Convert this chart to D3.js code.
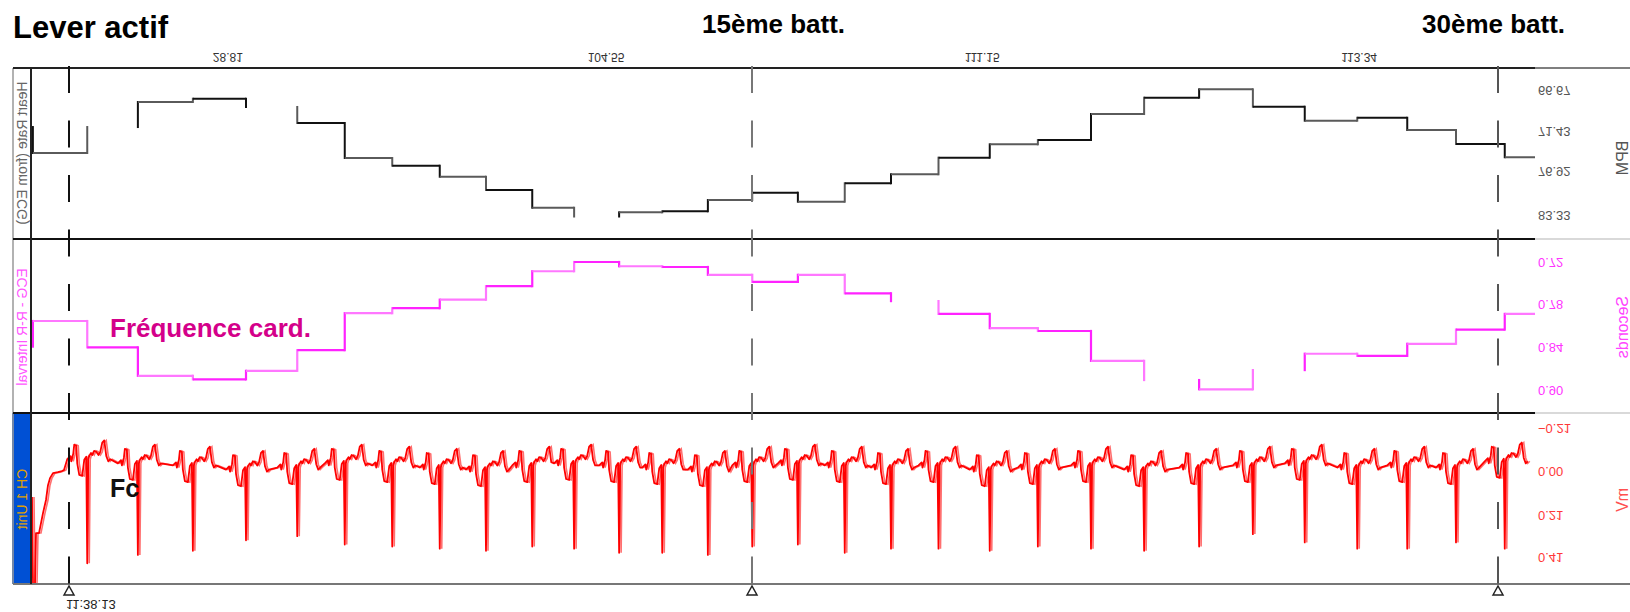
<!DOCTYPE html>
<html>
<head>
<meta charset="utf-8">
<script src="https://cdn.jsdelivr.net/npm/d3@7"></script>
<style>
  body { margin: 0; background: #fff; }
  svg { display: block; font-family: "Liberation Sans", Arial, sans-serif; }
</style>
</head>
<body>
<svg id="chart" width="1630" height="612"></svg>
<script>
// R-wave times, seconds from the start of the window (beat 0 .. beat 30)
const beatTimes = [0.03, 0.90, 1.71, 2.59, 3.44, 4.26, 5.02, 5.78, 6.54, 7.28, 8.02,
  8.69, 9.41, 10.10, 10.83, 11.54, 12.27, 13.02, 13.76, 14.52, 15.34,
  16.11, 16.96, 17.81, 18.69, 19.55, 20.38, 21.22, 22.02, 22.80, 23.58];

// one value per interval: the one before beat 0, then after each beat
const hrBpm = [70.97, 74.45, 70.97, 68.06, 67.68, 68.64, 70.50, 75.14, 76.19, 77.75,
  79.69, 82.27, 83.55, 82.94, 82.79, 81.15, 80.08, 81.39, 78.71, 77.40,
  75.09, 73.26, 72.67, 69.46, 67.56, 66.59, 68.61, 70.23, 69.89, 71.31,
  73.22, 75.03];
const hrGaps = [0, 2, 5, 12];

const rrSec = [0.839, 0.803, 0.840, 0.880, 0.885, 0.873, 0.844, 0.792, 0.785, 0.773,
  0.754, 0.733, 0.720, 0.726, 0.727, 0.738, 0.748, 0.738, 0.764, 0.775,
  0.793, 0.813, 0.817, 0.859, 0.886, 0.899, 0.872, 0.849, 0.852, 0.835,
  0.815, 0.793];
const rrGaps = [0, 19, 24, 26];

// depth of the R spike for beats 1..30 (mV, axis points down)
const spikeMv = [0.44, 0.40, 0.38, 0.33, 0.31, 0.35, 0.36, 0.37, 0.38, 0.36,
  0.37, 0.39, 0.39, 0.40, 0.36, 0.35, 0.39, 0.37, 0.37, 0.38,
  0.36, 0.37, 0.38, 0.36, 0.30, 0.34, 0.37, 0.37, 0.34, 0.37];

// baseline shift of each beat 1..30 (mV)
const baseMv = [-0.03, -0.01, 0.00, 0.02, 0.01, -0.01, 0.00, 0.01, 0.02, 0.00,
  -0.01, 0.00, 0.01, 0.02, 0.00, -0.01, 0.00, 0.01, 0.00, 0.02,
  0.01, 0.00, 0.02, 0.01, 0.00, -0.01, 0.01, 0.00, 0.01, -0.02];

// shape of one beat around its R spike [dt s, mV]; null = the spike itself
const ecgShape = [[-0.32, -0.03], [-0.27, -0.045], [-0.256, -0.02], [-0.224, -0.056],
  [-0.208, -0.10], [-0.176, -0.095], [-0.16, -0.01], [-0.128, 0.045], [-0.08, 0.05],
  [-0.048, -0.027], [-0.016, -0.042], [0, null], [0.016, -0.03], [0.032, -0.046],
  [0.06, -0.06], [0.08, -0.05], [0.11, -0.07], [0.144, -0.066], [0.18, -0.05],
  [0.208, -0.065], [0.24, -0.11], [0.272, -0.12], [0.304, -0.046], [0.336, -0.02],
  [0.368, -0.03]];

// recording start, before the first full beat
const ecgLeadIn = [[0.016, 0.122], [0.032, 0.54], [0.064, 0.54], [0.08, 0.295],
  [0.128, 0.295], [0.192, 0.199], [0.24, 0.136], [0.272, 0.065], [0.304, 0.031],
  [0.352, 0.007], [0.432, 0.002], [0.496, -0.003], [0.528, -0.008]];

const markerTimes = [0.608, 11.536, 23.472];
const topTickTimes = [3.15, 9.2, 15.22, 21.25];
const topTickLabels = ["28.81", "104.55", "111.15", "113.34"];
const hrTicks = [66.67, 71.43, 76.92, 83.33];
const rrTicks = [0.72, 0.78, 0.84, 0.90];
const ecgTicks = [-0.21, 0.00, 0.21, 0.41];

const svg = d3.select('#chart');
const plotL = 31, plotR = 1535, colL = 13, W = 1630;
const panels = [
  {id: 'hr', top: 68, bottom: 239},
  {id: 'rr', top: 239, bottom: 413},
  {id: 'ecg', top: 413, bottom: 584}
];

const x = d3.scaleLinear().domain([0, 24.064]).range([plotL, plotR]);
const hrY = d3.scaleLinear().domain(hrTicks).range([90, 131, 171, 215]);
const rrY = d3.scaleLinear().domain([rrTicks[0], rrTicks[3]]).range([262, 390]);
const ecgY = d3.scaleLinear().domain([ecgTicks[0], ecgTicks[3]]).range([428, 557]);

const defs = svg.append('defs');
panels.forEach(p => {
  defs.append('clipPath').attr('id', 'clip-' + p.id)
    .append('rect').attr('x', plotL).attr('y', p.top)
    .attr('width', plotR - plotL).attr('height', p.bottom - p.top);
});

// step trace: a flat piece per interval, verticals at the beats, gaps left open
function stepTrace() {
  let y, gaps = [], colors = ['#111', '#666'], width = 2;

  function my(selection) {
    selection.each(function(d) {
      const g = d3.select(this);
      const edges = [x.domain()[0] - 0.5].concat(d.times, [x.domain()[1] + 0.5]);
      d.values.forEach(function(v, j) {
        const c = colors[j % colors.length];
        if (gaps.indexOf(j) < 0) {
          g.append('line')
            .attr('x1', x(edges[j])).attr('x2', x(edges[j + 1]))
            .attr('y1', y(v)).attr('y2', y(v))
            .attr('stroke', c).attr('stroke-width', width);
        }
        if (j < d.values.length - 1) {
          g.append('line')
            .attr('x1', x(edges[j + 1])).attr('x2', x(edges[j + 1]))
            .attr('y1', y(v)).attr('y2', y(d.values[j + 1]))
            .attr('stroke', c).attr('stroke-width', width)
            .attr('stroke-linecap', 'square');
        }
      });
    });
  }

  my.y = function(value) { if (!arguments.length) return y; y = value; return my; };
  my.gaps = function(value) { if (!arguments.length) return gaps; gaps = value; return my; };
  my.colors = function(value) { if (!arguments.length) return colors; colors = value; return my; };
  my.width = function(value) { if (!arguments.length) return width; width = value; return my; };
  return my;
}

// flipped small text, as in the source print-out
function flipText(g, px, py, txt, opts) {
  const rot = opts.rotate ? ' rotate(90)' : '';
  return g.append('text')
    .attr('transform', `translate(${px},${py})${rot} scale(1,-1)`)
    .attr('text-anchor', opts.anchor || 'start')
    .attr('dominant-baseline', 'central')
    .attr('font-size', opts.size || 12)
    .attr('fill', opts.color || '#333')
    .text(txt);
}

// frame
svg.append('rect').attr('x', colL - 1).attr('y', 413).attr('width', plotL - colL + 1)
  .attr('height', 171).attr('fill', '#0050d4');
svg.append('line').attr('x1', colL).attr('x2', colL).attr('y1', 68).attr('y2', 584)
  .attr('stroke', '#999').attr('stroke-width', 1.5);

// traces
svg.append('g').attr('clip-path', 'url(#clip-hr)')
  .datum({times: beatTimes, values: hrBpm})
  .call(stepTrace().y(hrY).gaps(hrGaps).colors(['#111', '#5a5a5a']).width(2));

svg.append('g').attr('clip-path', 'url(#clip-rr)')
  .datum({times: beatTimes, values: rrSec})
  .call(stepTrace().y(rrY).gaps(rrGaps).colors(['#ff22ff', '#ff77ff']).width(2.2));

const ecgPoints = ecgLeadIn.slice();
beatTimes.slice(1).forEach(function(t, k) {
  const i = k + 1;
  const before = beatTimes[i] - beatTimes[i - 1];
  const after = i + 1 < beatTimes.length ? beatTimes[i + 1] - beatTimes[i] : 1;
  ecgShape.forEach(function(s) {
    if (s[0] < -before * 0.5 || s[0] > after * 0.5) return;
    ecgPoints.push([t + s[0], s[1] === null ? spikeMv[k] : s[1] + baseMv[k]]);
  });
});
const ecgLine = d3.line().x(d => x(d[0])).y(d => ecgY(d[1]));
const ecgG = svg.append('g').attr('clip-path', 'url(#clip-ecg)');
ecgG.append('path').datum(ecgPoints).attr('d', ecgLine)
  .attr('transform', 'translate(2,0)')
  .attr('fill', 'none').attr('stroke', '#ff7070').attr('stroke-width', 1.6);
ecgG.append('path').datum(ecgPoints).attr('d', ecgLine)
  .attr('fill', 'none').attr('stroke', '#ff0000').attr('stroke-width', 1.8)
  .attr('stroke-linejoin', 'round');

// panel borders
svg.append('line').attr('x1', colL).attr('x2', plotR).attr('y1', 68).attr('y2', 68)
  .attr('stroke', '#222').attr('stroke-width', 2);
svg.append('line').attr('x1', plotR).attr('x2', W).attr('y1', 68).attr('y2', 68)
  .attr('stroke', '#555').attr('stroke-width', 1.5);
[239, 413].forEach(function(yy) {
  svg.append('line').attr('x1', colL).attr('x2', plotR).attr('y1', yy).attr('y2', yy)
    .attr('stroke', '#111').attr('stroke-width', 2);
  svg.append('line').attr('x1', plotR).attr('x2', W).attr('y1', yy).attr('y2', yy)
    .attr('stroke', '#ccc').attr('stroke-width', 1.5);
});
svg.append('line').attr('x1', colL).attr('x2', W).attr('y1', 584).attr('y2', 584)
  .attr('stroke', '#777').attr('stroke-width', 2);
svg.append('line').attr('x1', plotL).attr('x2', plotL).attr('y1', 68).attr('y2', 584)
  .attr('stroke', '#222').attr('stroke-width', 2);

// beat markers
const markerColors = ['#111', '#777', '#555'];
markerTimes.forEach(function(t, i) {
  svg.append('line').attr('x1', x(t)).attr('x2', x(t)).attr('y1', 66).attr('y2', 590)
    .attr('stroke', markerColors[i]).attr('stroke-width', 2)
    .attr('stroke-dasharray', '27,27.5');
  svg.append('path')
    .attr('d', `M${x(t) - 5},595L${x(t)},586L${x(t) + 5},595Z`)
    .attr('fill', '#fff').attr('stroke', '#222').attr('stroke-width', 1.5);
});

// right-hand scales
hrTicks.forEach(v => flipText(svg, 1538, hrY(v), d3.format('.2f')(v), {color: '#555', size: 13}));
rrTicks.forEach(v => flipText(svg, 1538, rrY(v), d3.format('.2f')(v), {color: '#ff33ff', size: 13}));
ecgTicks.forEach(v => flipText(svg, 1538, ecgY(v), d3.format('.2f')(v), {color: '#ff3838', size: 13}));
flipText(svg, 1622, 158, 'BPM', {rotate: true, anchor: 'middle', size: 16, color: '#555'});
flipText(svg, 1622, 327, 'Seconds', {rotate: true, anchor: 'middle', size: 16, color: '#ff44ff'});
flipText(svg, 1622, 500, 'mV', {rotate: true, anchor: 'middle', size: 16, color: '#ff5050'});

// channel names
flipText(svg, 22, 153, 'Heart Rate (from ECG)', {rotate: true, anchor: 'middle', size: 14, color: '#666'});
flipText(svg, 22, 327, 'ECG - R-R Interval', {rotate: true, anchor: 'middle', size: 14, color: '#ff55ff'});
flipText(svg, 22, 499, 'CH 1 Unit', {rotate: true, anchor: 'middle', size: 14, color: '#e0a000'});

// time labels
topTickTimes.forEach((t, i) => flipText(svg, x(t), 57, topTickLabels[i], {anchor: 'middle', size: 12, color: '#333'}));
flipText(svg, x(markerTimes[0]) - 3, 604, '11:38.13', {size: 13, color: '#222'});

// annotations
svg.append('text').attr('x', 13).attr('y', 38).attr('font-size', 31)
  .attr('font-weight', 'bold').text('Lever actif');
svg.append('text').attr('x', 702).attr('y', 33).attr('font-size', 26)
  .attr('font-weight', 'bold').text('15ème batt.');
svg.append('text').attr('x', 1422).attr('y', 33).attr('font-size', 26)
  .attr('font-weight', 'bold').text('30ème batt.');
svg.append('text').attr('x', 110).attr('y', 337).attr('font-size', 26)
  .attr('font-weight', 'bold').attr('fill', '#d4008a').text('Fréquence card.');
svg.append('text').attr('x', 110).attr('y', 497).attr('font-size', 25)
  .attr('font-weight', 'bold').attr('fill', '#111').text('Fc');
</script>
</body>
</html>
